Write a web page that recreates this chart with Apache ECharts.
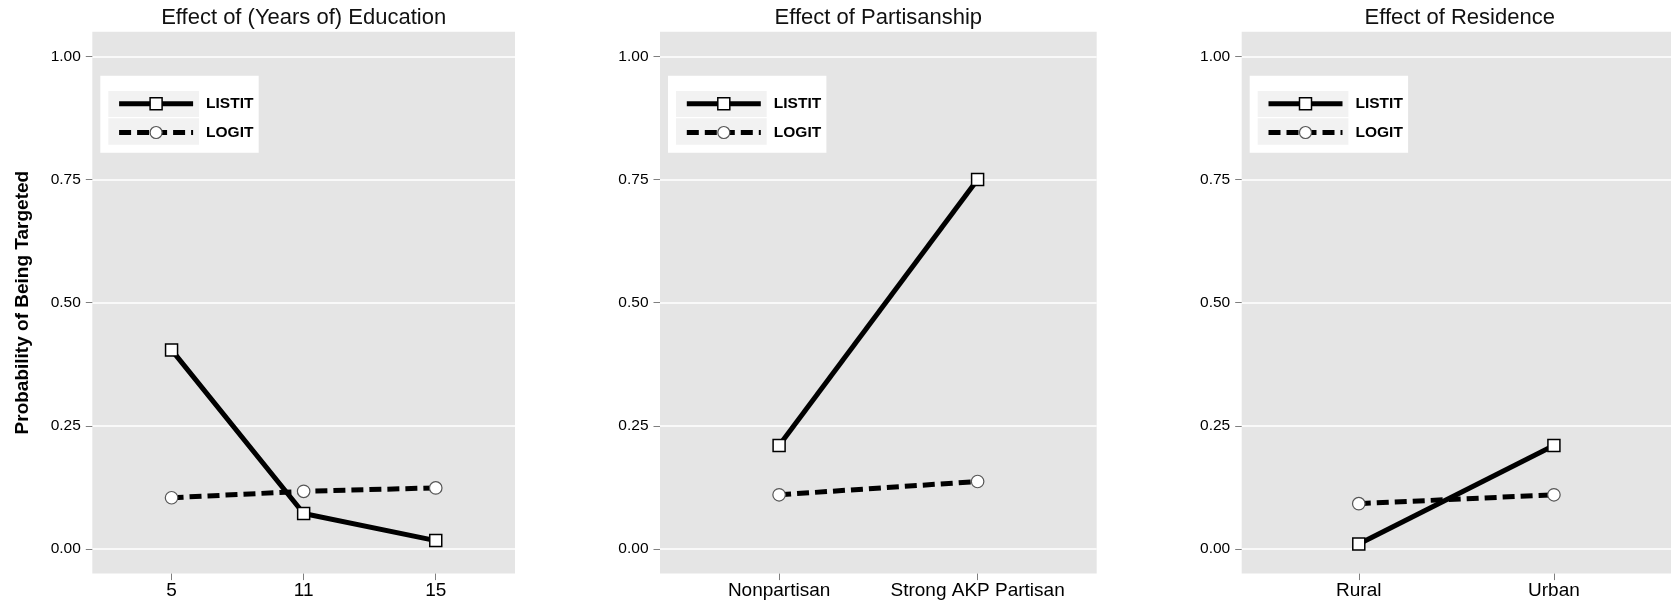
<!DOCTYPE html>
<html>
<head>
<meta charset="utf-8">
<script src="https://cdn.jsdelivr.net/npm/echarts@6/dist/echarts.min.js"></script>
<style>
  html, body { margin: 0; padding: 0; background: #fff; }
  #chart { width: 1671px; height: 605px; }
</style>
</head>
<body>
<div id="chart"></div>
<script>
// values
const eduCats = ['5', '11', '15'];
const eduListit = [0.404, 0.072, 0.017];
const eduLogit = [0.104, 0.117, 0.124];

const partyCats = ['Nonpartisan', 'Strong AKP Partisan'];
const partyListit = [0.21, 0.75];
const partyLogit = [0.11, 0.137];

const resCats = ['Rural', 'Urban'];
const resListit = [0.01, 0.21];
const resLogit = [0.092, 0.11];

const panelTitles = ['Effect of (Years of) Education', 'Effect of Partisanship', 'Effect of Residence'];
const yTicks = [0, 0.25, 0.5, 0.75, 1];
const yLabel = 'Probability of Being Targeted';
const seriesNames = ['LISTIT', 'LOGIT'];

const FONT = '"Liberation Sans", Arial, Helvetica, sans-serif';
const TOP = 31.7, HEIGHT = 541.9;

const panels = [
  { cats: eduCats, listit: eduListit, logit: eduLogit, left: 92.3, width: 422.7 },
  { cats: partyCats, listit: partyListit, logit: partyLogit, left: 660, width: 436.7 },
  { cats: resCats, listit: resListit, logit: resLogit, left: 1241.7, width: 436 }
];

const option = {
  animation: false,
  backgroundColor: '#fff',
  title: [], grid: [], xAxis: [], yAxis: [], series: [], legend: [], graphic: []
};

panels.forEach((p, i) => {
  const idx = p.cats.map((c, k) => k);

  option.grid.push({
    left: p.left, top: TOP, width: p.width, height: HEIGHT,
    show: true, backgroundColor: '#e5e5e5', borderWidth: 0
  });

  option.title.push({
    text: panelTitles[i],
    left: p.left + p.width / 2, top: 7, textAlign: 'center', padding: 0,
    textStyle: { fontFamily: FONT, fontSize: 22, fontWeight: 'normal', color: '#111' }
  });

  option.xAxis.push({
    type: 'value', gridIndex: i, position: 'bottom',
    min: -0.6, max: p.cats.length - 1 + 0.6,
    axisLine: { show: false, onZero: false },
    splitLine: { show: false },
    axisTick: { customValues: idx, length: 6.5, lineStyle: { color: '#7f7f7f' } },
    axisLabel: {
      customValues: idx, formatter: v => p.cats[Math.round(v)],
      margin: 8, fontSize: 19, fontFamily: FONT, color: '#000'
    }
  });

  option.yAxis.push({
    type: 'value', gridIndex: i, position: 'left',
    min: -0.05, max: 1.05,
    axisLine: { show: false, onZero: false },
    axisTick: { show: true, customValues: yTicks, length: 6.5, lineStyle: { color: '#7f7f7f' } },
    axisLabel: {
      customValues: yTicks, formatter: v => v.toFixed(2),
      margin: 11.5, fontSize: 15.5, fontFamily: FONT, color: '#000'
    },
    splitLine: { show: true, lineStyle: { color: '#fff', width: 1.6 } },
    name: i === 0 ? yLabel : '',
    nameLocation: 'middle', nameGap: 60, nameRotate: 90,
    nameTextStyle: { fontFamily: FONT, fontSize: 19, fontWeight: 'bold', color: '#000' }
  });

  option.series.push({
    name: seriesNames[0], type: 'line', xAxisIndex: i, yAxisIndex: i,
    data: p.listit.map((v, k) => [k, v]),
    symbol: 'rect', symbolSize: 12,
    lineStyle: { color: '#000', width: 5 },
    itemStyle: { color: '#fff', borderColor: '#000', borderWidth: 1.5 }
  });
  option.series.push({
    name: seriesNames[1], type: 'line', xAxisIndex: i, yAxisIndex: i,
    data: p.logit.map((v, k) => [k, v]),
    symbol: 'circle', symbolSize: 12.5,
    lineStyle: { color: '#000', width: 5, type: [12, 6] },
    itemStyle: { color: '#fff', borderColor: '#555', borderWidth: 1.2 }
  });

  // legend box, same spot inside each panel
  option.graphic.push(
    { type: 'rect', z: 5, shape: { x: p.left + 8, y: 75.7, width: 158.4, height: 77 }, style: { fill: '#fff' } },
    { type: 'rect', z: 6, shape: { x: p.left + 16, y: 91, width: 90.7, height: 26 }, style: { fill: '#f2f2f2' } },
    { type: 'rect', z: 6, shape: { x: p.left + 16, y: 118.3, width: 90.7, height: 26.4 }, style: { fill: '#f2f2f2' } }
  );
  option.legend.push({
    data: seriesNames, orient: 'vertical',
    left: p.left + 24.3, top: 95.8, padding: 0,
    itemWidth: 74, itemHeight: 15, itemGap: 12.7,
    selectedMode: false, z: 10,
    lineStyle: { width: 'inherit' },
    itemStyle: { borderWidth: 'inherit' },
    textStyle: { fontFamily: FONT, fontSize: 15.5, fontWeight: 'bold', color: '#000', lineHeight: 15, padding: [0, 0, 0, 8] }
  });
});

const chart = echarts.init(document.getElementById('chart'));
chart.setOption(option);
</script>
</body>
</html>
